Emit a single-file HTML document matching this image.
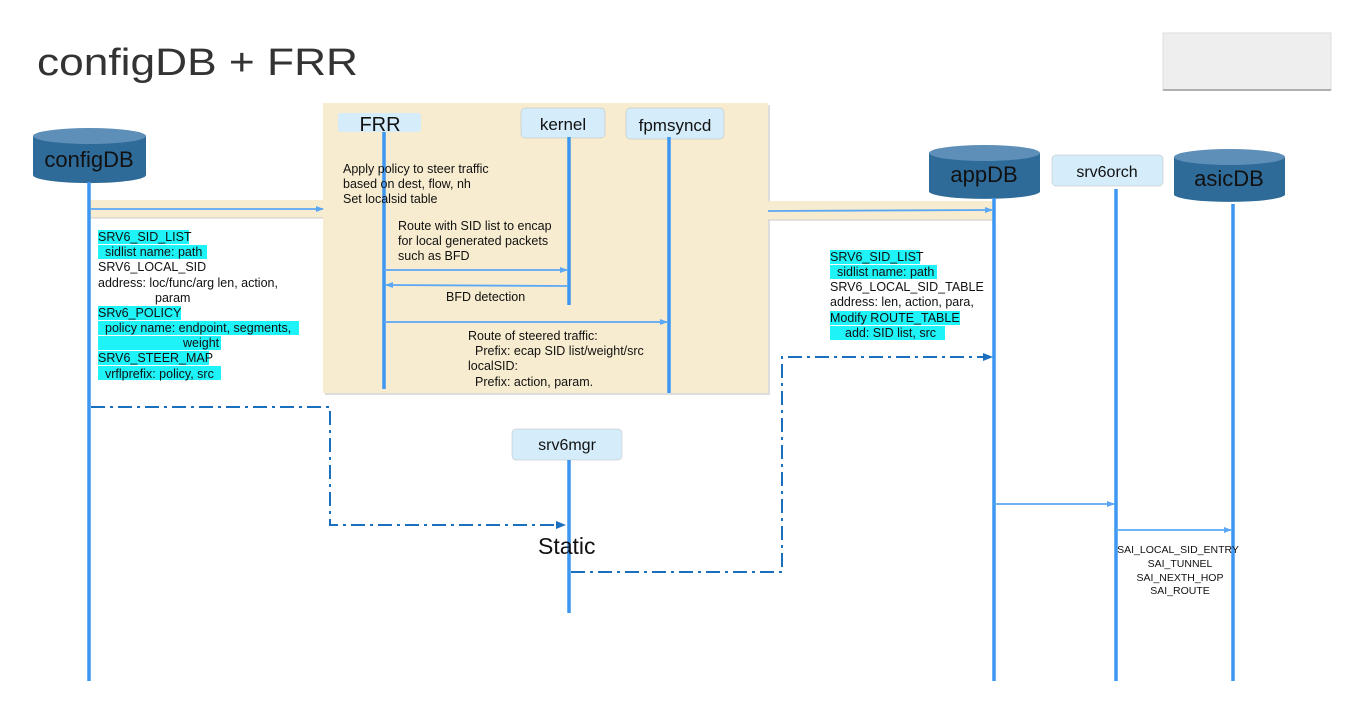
<!DOCTYPE html>
<html><head><meta charset="utf-8"><style>
html,body{margin:0;padding:0;background:#fff;}
svg{display:block;font-family:"Liberation Sans",sans-serif;}
</style></head><body>
<svg width="1345" height="719" viewBox="0 0 1345 719" xmlns="http://www.w3.org/2000/svg">
<defs>
<marker id="a" markerWidth="8" markerHeight="8" refX="7" refY="4" orient="auto" markerUnits="userSpaceOnUse"><path d="M0,1 L8,4 L0,7 z" fill="#5aa8f5"/></marker>
<marker id="d" markerWidth="10" markerHeight="10" refX="9" refY="5" orient="auto" markerUnits="userSpaceOnUse"><path d="M0,1 L10,5 L0,9 z" fill="#1a6fbf"/></marker>
</defs>
<text x="37" y="75" font-size="38" fill="#333" textLength="321" lengthAdjust="spacingAndGlyphs">configDB + FRR</text>
<rect x="1163" y="33" width="168" height="57" fill="#eee" stroke="#ddd"/>
<line x1="1163" y1="90" x2="1331" y2="90" stroke="#999" stroke-width="1.5"/>

<!-- beige panel -->
<rect x="325" y="105" width="445" height="290" fill="#bbb" opacity="0.5"/>
<rect x="323" y="103" width="445" height="290" fill="#f7eccf"/>
<rect x="90" y="200" width="233" height="18" fill="#f7eccf"/>
<line x1="90" y1="218" x2="323" y2="218" stroke="#ccc"/>
<rect x="768" y="201" width="225" height="19" fill="#f7eccf"/>
<line x1="768" y1="220" x2="993" y2="220" stroke="#ccc"/>

<!-- cylinders -->
<g>
<path d="M33,136 L33,175 A56,8 0 0 0 146,175 L146,136 z" fill="#2f6b99"/>
<ellipse cx="89.5" cy="136" rx="56.5" ry="8" fill="#5d8fb8"/>
<text x="89" y="167" font-size="22" text-anchor="middle" fill="#111">configDB</text>
</g>
<g>
<path d="M929,153 L929,192 A56,8 0 0 0 1040,192 L1040,153 z" fill="#2f6b99"/>
<ellipse cx="984.5" cy="153" rx="55.5" ry="8" fill="#5d8fb8"/>
<text x="984" y="182" font-size="22" text-anchor="middle" fill="#111">appDB</text>
</g>
<g>
<path d="M1174,157 L1174,195 A56,8 0 0 0 1285,195 L1285,157 z" fill="#2f6b99"/>
<ellipse cx="1229.5" cy="157" rx="55.5" ry="8" fill="#5d8fb8"/>
<text x="1229" y="186" font-size="22" text-anchor="middle" fill="#111">asicDB</text>
</g>

<!-- boxes -->
<rect x="338" y="113" width="83" height="19" rx="3" fill="#d5edfa"/>
<text x="380" y="131" font-size="20" text-anchor="middle" fill="#111">FRR</text>
<rect x="521" y="108" width="84" height="30" rx="4" fill="#d5edfa" stroke="#bbb" stroke-width="0.5"/>
<text x="563" y="130" font-size="17" text-anchor="middle" fill="#111">kernel</text>
<rect x="626" y="108" width="98" height="31" rx="4" fill="#d5edfa" stroke="#bbb" stroke-width="0.5"/>
<text x="675" y="131" font-size="17" text-anchor="middle" fill="#111">fpmsyncd</text>
<rect x="1052" y="155" width="111" height="31" rx="4" fill="#d5edfa" stroke="#bbb" stroke-width="0.5"/>
<text x="1107" y="177" font-size="16" text-anchor="middle" fill="#111">srv6orch</text>
<rect x="512" y="429" width="110" height="31" rx="4" fill="#d5edfa" stroke="#bbb" stroke-width="0.5"/>
<text x="567" y="450" font-size="16" text-anchor="middle" fill="#111">srv6mgr</text>

<!-- lifelines -->
<g stroke="#3d97f2" stroke-width="3.5">
<line x1="89" y1="182" x2="89" y2="681"/>
<line x1="384" y1="132" x2="384" y2="389"/>
<line x1="569" y1="137" x2="569" y2="305"/>
<line x1="669" y1="137" x2="669" y2="393"/>
<line x1="994" y1="198" x2="994" y2="681"/>
<line x1="1116" y1="189" x2="1116" y2="681"/>
<line x1="1233" y1="204" x2="1233" y2="681"/>
<line x1="569" y1="460" x2="569" y2="613"/>
</g>

<!-- solid arrows -->
<g stroke="#5aa8f5" stroke-width="1.8" fill="none">
<line x1="90" y1="209" x2="323" y2="209" marker-end="url(#a)"/>
<line x1="768" y1="211" x2="992" y2="210" marker-end="url(#a)"/>
<line x1="384" y1="270" x2="567" y2="270" marker-end="url(#a)"/>
<line x1="567" y1="286" x2="386" y2="285" marker-end="url(#a)"/>
<line x1="384" y1="322" x2="667" y2="322" marker-end="url(#a)"/>
<line x1="994" y1="504" x2="1114" y2="504" marker-end="url(#a)"/>
<line x1="1116" y1="530" x2="1231" y2="530" marker-end="url(#a)"/>
</g>

<!-- dash-dot -->
<g stroke="#1a6fbf" stroke-width="2" fill="none" stroke-dasharray="14,5,3,5">
<polyline points="91,407 330,407 330,525 565,525" marker-end="url(#d)"/>
<polyline points="571,572 782,572 782,357 992,357" marker-end="url(#d)"/>
</g>

<!-- highlights -->
<g fill="#1ef3f7">
<rect x="98" y="230" width="91" height="14"/>
<rect x="98" y="245" width="109" height="14"/>
<rect x="98" y="306" width="83" height="14"/>
<rect x="98" y="321" width="201" height="14"/>
<rect x="98" y="336" width="123" height="14"/>
<rect x="98" y="351" width="111" height="14"/>
<rect x="98" y="366" width="123" height="14"/>
<rect x="830" y="250" width="90" height="14"/>
<rect x="830" y="265" width="107" height="14"/>
<rect x="830" y="311" width="130" height="14"/>
<rect x="830" y="326" width="115" height="14"/>
</g>
<g font-size="12.5" fill="#111">
<text x="98" y="241">SRV6_SID_LIST</text>
<text x="98" y="256">  <tspan x="105">sidlist name: path</tspan></text>
<text x="98" y="271">SRV6_LOCAL_SID</text>
<text x="98" y="287">address: loc/func/arg len, action,</text>
<text x="155" y="302">param</text>
<text x="98" y="317">SRv6_POLICY</text>
<text x="105" y="332">policy name: endpoint, segments,</text>
<text x="183" y="347">weight</text>
<text x="98" y="362">SRV6_STEER_MAP</text>
<text x="105" y="378">vrflprefix: policy, src</text>

<text x="343" y="173">Apply policy to steer traffic</text>
<text x="343" y="188">based on dest, flow, nh</text>
<text x="343" y="203">Set localsid table</text>
<text x="398" y="230">Route with SID list to encap</text>
<text x="398" y="245">for local generated packets</text>
<text x="398" y="260">such as BFD</text>
<text x="446" y="301">BFD detection</text>
<text x="468" y="340">Route of steered traffic:</text>
<text x="475" y="355">Prefix: ecap SID list/weight/src</text>
<text x="468" y="370">localSID:</text>
<text x="475" y="386">Prefix: action, param.</text>

<text x="830" y="261">SRV6_SID_LIST</text>
<text x="837" y="276">sidlist name: path</text>
<text x="830" y="291">SRV6_LOCAL_SID_TABLE</text>
<text x="830" y="306">address:  len, action, para,</text>
<text x="830" y="322">Modify ROUTE_TABLE</text>
<text x="845" y="337">add:  SID list, src</text>
</g>
<text x="538" y="554" font-size="23" fill="#111">Static</text>
<g font-size="10.5" fill="#111" text-anchor="middle">
<text x="1178" y="553">SAI_LOCAL_SID_ENTRY</text>
<text x="1180" y="567">SAI_TUNNEL</text>
<text x="1180" y="581">SAI_NEXTH_HOP</text>
<text x="1180" y="594">SAI_ROUTE</text>
</g>
</svg>
</body></html>
